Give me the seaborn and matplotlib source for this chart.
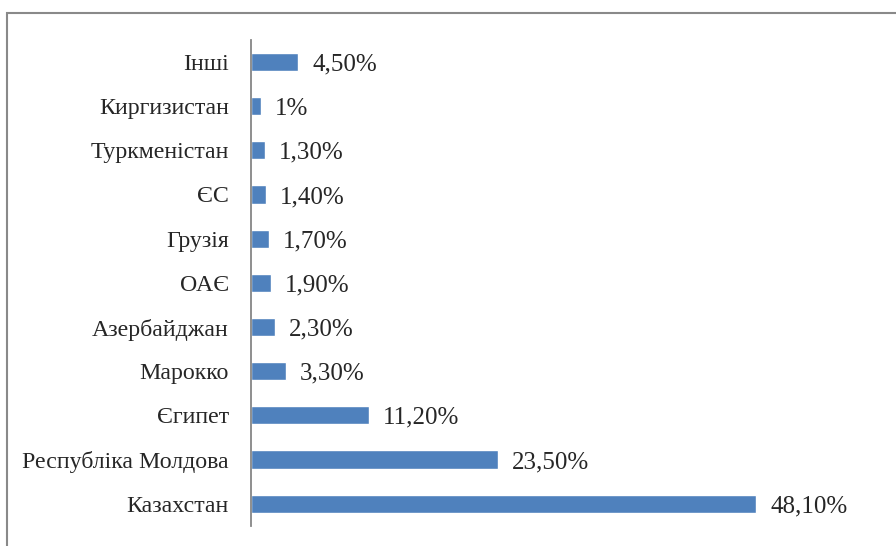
import matplotlib
matplotlib.use("Agg")
import matplotlib.pyplot as plt
import matplotlib.patches as mpatches
import seaborn as sns
import pandas as pd

countries = ["Інші", "Киргизистан", "Туркменістан", "ЄС", "Грузія", "ОАЄ",
             "Азербайджан", "Марокко", "Єгипет", "Республіка Молдова", "Казахстан"]
shares = [4.5, 1.0, 1.3, 1.4, 1.7, 1.9, 2.3, 3.3, 11.2, 23.5, 48.1]
share_labels = ["4,50%", "1%", "1,30%", "1,40%", "1,70%", "1,90%",
                "2,30%", "3,30%", "11,20%", "23,50%", "48,10%"]

df = pd.DataFrame({"country": countries, "share": shares})

sns.set_style("white")
plt.rcParams["font.family"] = ["Liberation Serif", "DejaVu Serif"]

fig = plt.figure(figsize=(8.96, 5.46), dpi=100)
ax = fig.add_axes([0.280, 0.037, 0.68, 0.890])

sns.barplot(data=df, x="share", y="country", orient="h", color="#4F81BD",
            width=0.41, saturation=1, ax=ax)
texts = ax.bar_label(ax.containers[0], labels=share_labels, padding=10, fontsize=18)
for t in texts:
    t.set_va("center_baseline")

ax.set_xlim(0, 58)
ax.set_ylim(10.5, -0.5)
ax.set_xlabel("")
ax.set_ylabel("")
ax.set_xticks([])
ax.tick_params(axis="y", length=0, pad=16, labelsize=17.2)
for lbl in ax.get_yticklabels():
    lbl.set_va("center_baseline")
for s in ["top", "right", "bottom"]:
    ax.spines[s].set_visible(False)
ax.spines["left"].set_color("#868686")
ax.spines["left"].set_linewidth(1.3)

# outer chart frame
frame = mpatches.Rectangle((7 / 896, -0.1), 1.2, 1 - 13 / 546 + 0.1,
                           transform=fig.transFigure, fill=False,
                           edgecolor="#898989", linewidth=1.5)
fig.patches.append(frame)

fig.savefig("out.png", dpi=100)
